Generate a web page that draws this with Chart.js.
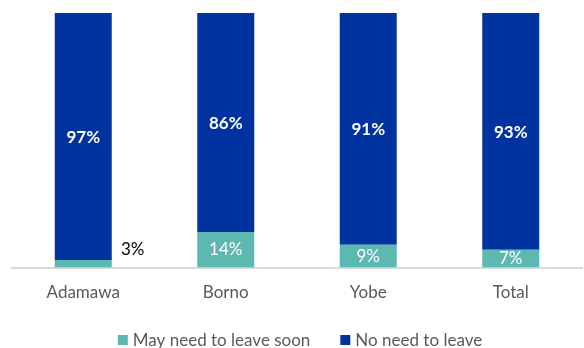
<!DOCTYPE html>
<html>
<head>
<meta charset="utf-8">
<script src="https://cdn.jsdelivr.net/npm/chart.js@4"></script>
<style>
  html, body { margin: 0; padding: 0; background: #fff; }
  #wrap { width: 584px; height: 348px; }
</style>
</head>
<body>
<div id="wrap"><canvas id="myChart" width="584" height="348"></canvas></div>
<script>
const regions = ["Adamawa", "Borno", "Yobe", "Total"];
const mayLeave = [3, 14, 9, 7];
const noNeed = [97, 86, 91, 93];

const teal = "#5db8b1";
const blue = "#0033a0";
const textGray = "#595959";
const fontFamily = "Lato, 'Open Sans', sans-serif";

// Percent labels inside the segments; small segments get their label outside to the right
const segmentLabels = {
  id: "segmentLabels",
  afterDatasetsDraw(chart) {
    const ctx = chart.ctx;
    ctx.save();
    ctx.textAlign = "center";
    ctx.textBaseline = "middle";
    chart.data.datasets.forEach((ds, di) => {
      const meta = chart.getDatasetMeta(di);
      meta.data.forEach((bar, i) => {
        const v = ds.data[i];
        const label = v + "%";
        const top = Math.min(bar.y, bar.base);
        const h = Math.abs(bar.base - bar.y);
        if (di === 1) {
          ctx.font = "bold 17px " + fontFamily;
          ctx.fillStyle = "#ffffff";
          ctx.fillText(label, bar.x, top + h / 2 + 1);
        } else if (h < 14) {
          ctx.font = "17px " + fontFamily;
          ctx.fillStyle = "#000000";
          ctx.fillText(label, bar.x + bar.width / 2 + 21, bar.base - 18);
        } else {
          ctx.font = "17px " + fontFamily;
          ctx.fillStyle = "#ffffff";
          ctx.fillText(label, bar.x, top + h / 2);
        }
      });
    });
    ctx.restore();
  }
};

// Legend row along the bottom edge: small square, short gap, label, wide gap
const bottomLegend = {
  id: "bottomLegend",
  afterDraw(chart) {
    const ctx = chart.ctx;
    const box = 10, boxGap = 5, itemGap = 30, y = 340;
    ctx.save();
    ctx.font = "17px " + fontFamily;
    ctx.textBaseline = "middle";
    ctx.textAlign = "left";
    const items = chart.data.datasets.map(ds => ({
      text: ds.label,
      color: ds.backgroundColor,
      w: ctx.measureText(ds.label).width
    }));
    const total = items.reduce((s, it) => s + box + boxGap + it.w, 0) + itemGap * (items.length - 1);
    let x = (chart.chartArea.left + chart.chartArea.right) / 2 + 3 - total / 2;
    items.forEach(it => {
      ctx.fillStyle = it.color;
      ctx.fillRect(x, y - box / 2, box, box);
      x += box + boxGap;
      ctx.fillStyle = textGray;
      ctx.fillText(it.text, x, y + 1);
      x += it.w + itemGap;
    });
    ctx.restore();
  }
};

const ctx = document.getElementById("myChart").getContext("2d");

const chart = new Chart(ctx, {
  type: "bar",
  data: {
    labels: regions,
    datasets: [
      {
        label: "May need to leave soon",
        data: mayLeave,
        backgroundColor: teal,
        barPercentage: 0.4,
        categoryPercentage: 1.0
      },
      {
        label: "No need to leave",
        data: noNeed,
        backgroundColor: blue,
        barPercentage: 0.4,
        categoryPercentage: 1.0
      }
    ]
  },
  options: {
    responsive: false,
    animation: false,
    layout: { padding: { top: 13, left: 12, right: 2, bottom: 38 } },
    plugins: {
      tooltip: { enabled: false },
      legend: { display: false }
    },
    scales: {
      x: {
        stacked: true,
        grid: { display: false },
        border: { display: true, color: "#d9d9d9", width: 2 },
        ticks: {
          color: textGray,
          font: { family: fontFamily, size: 17 },
          padding: 7
        }
      },
      y: {
        stacked: true,
        display: false,
        min: 0,
        max: 100
      }
    }
  },
  plugins: [segmentLabels, bottomLegend]
});
</script>
</body>
</html>
